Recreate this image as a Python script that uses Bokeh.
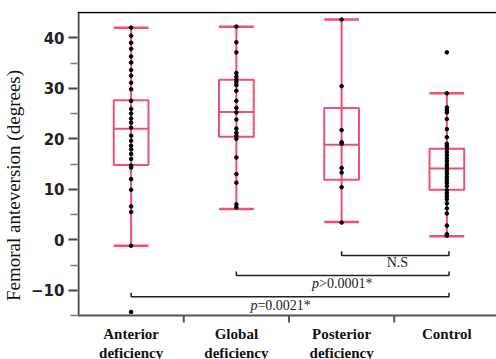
from bokeh.plotting import figure
from bokeh.models import FixedTicker, Span, Range1d
from bokeh.core.properties import value
from bokeh.embed import file_html
from bokeh.resources import INLINE

categories = ["Anterior\ndeficiency", "Global\ndeficiency", "Posterior\ndeficiency", "Control"]

anterior = [42.0, 40.4, 39.0, 37.8, 36.3, 35.1, 33.6, 32.5, 31.1, 29.8, 27.5, 25.9, 25.0,
            24.0, 23.2, 22.2, 20.6, 19.6, 18.6, 17.9, 17.0, 16.0, 14.7, 14.3, 12.0, 9.9,
            6.6, 5.5, -1.2, -14.3]
global_def = [42.2, 39.1, 37.1, 33.0, 32.3, 31.7, 31.2, 30.6, 29.5, 27.5, 26.1, 25.2, 23.8,
              22.0, 21.2, 20.6, 20.0, 16.3, 13.0, 11.3, 7.0, 6.4]
posterior = [43.6, 30.4, 21.7, 19.3, 19.0, 14.2, 13.3, 10.4, 3.4]
control = [37.1, 29.0, 26.2, 25.7, 25.2, 23.9, 21.9, 20.3, 19.0, 18.5, 18.0, 17.4, 16.8,
           16.2, 15.6, 15.0, 14.5, 14.0, 13.5, 13.0, 12.4, 11.8, 11.2, 10.6, 9.8, 9.2,
           8.6, 8.0, 7.2, 6.2, 5.2, 2.8, 1.1, 0.8]

lower = [-1.2, 6.1, 3.5, 0.7]
q1 = [14.8, 20.4, 11.9, 9.9]
median = [22.0, 25.3, 18.8, 14.1]
q3 = [27.6, 31.7, 26.1, 18.0]
upper = [42.0, 42.2, 43.6, 29.0]

y_ticks = [-10, 0, 10, 20, 30, 40]
y_minor = [-15, -5, 5, 15, 25, 35]
y_min, y_max = -15, 45

# comparisons: (from group index, to group index, label prefix, label rest)
comparisons = [(2, 3, "", "N.S"), (1, 3, "p", ">0.0001*"), (0, 3, "p", "=0.0021*")]
bracket_levels = [-3.1, -7.1, -11.3]

PINK = "#ef4f73"
AX = "#444444"
groups = [anterior, global_def, posterior, control]
centers = [i + 0.5 for i in range(len(categories))]
hw = 0.165

PX_Y = 5.05      # pixels per degree
PX_X = 105.5     # pixels per category
y_lo = y_min - 44 / PX_Y
y_hi = y_max + 1 / PX_Y
x_lo = -1 / PX_X

p = figure(width=496, height=359, output_backend="svg", toolbar_location=None,
           x_axis_location=None,
           x_range=Range1d(x_lo, x_lo + 420 / PX_X), y_range=Range1d(y_lo, y_hi))
p.min_border_left = 76
p.min_border_right = 0
p.min_border_top = 11
p.min_border_bottom = 0
p.outline_line_color = None
p.xgrid.visible = False
p.ygrid.visible = False
p.background_fill_color = "white"
p.border_fill_color = "white"

# axis lines (drawn as data lines)
p.segment(x0=[0], x1=[0], y0=[y_min], y1=[y_max], line_color=AX, line_width=2)
p.add_layout(Span(location=y_min, dimension="width", line_color="#555555", line_width=2))
p.add_layout(Span(location=y_max, dimension="width", line_color="black", line_width=1.5))
bounds = [1, 2, 3]
p.segment(x0=bounds, x1=bounds, y0=[y_min] * 3, y1=[y_min - 7 / PX_Y] * 3,
          line_color="#555555", line_width=2)

# whisker central lines
p.segment(x0=centers, x1=centers, y0=lower, y1=upper, line_color=PINK, line_width=2)
# boxes
p.quad(left=[c - hw for c in centers], right=[c + hw for c in centers], bottom=q1, top=q3,
       fill_color=None, line_color=PINK, line_width=2)
# medians
p.segment(x0=[c - hw for c in centers], x1=[c + hw for c in centers], y0=median, y1=median,
          line_color=PINK, line_width=2)
# caps
p.segment(x0=[c - hw for c in centers], x1=[c + hw for c in centers], y0=upper, y1=upper,
          line_color=PINK, line_width=2.5)
p.segment(x0=[c - hw for c in centers], x1=[c + hw for c in centers], y0=lower, y1=lower,
          line_color=PINK, line_width=2.5)

# points
xs, ys = [], []
for c, g in zip(centers, groups):
    xs += [c] * len(g)
    ys += g
p.scatter(xs, ys, size=3.6, color="black")

# brackets
tick_h = 0.8
for (a, b, pre, rest), lvl in zip(comparisons, bracket_levels):
    xa, xb = centers[a], centers[b] + 0.02
    p.line([xa, xa, xb, xb], [lvl + tick_h, lvl, lvl, lvl + tick_h], line_color="#222222", line_width=1.5)

# bracket labels
FS = "14px"
SERIF = value("Liberation Serif")
p.text(x=[3.03], y=[-4.6], text=["N.S"], text_font=SERIF, text_font_size=FS,
       text_align="center", text_baseline="middle", text_color="#222222")
p.text(x=[2.285], y=[-8.7], text=["p"], text_font=SERIF, text_font_size=FS,
       text_font_style="italic", text_align="right", text_baseline="middle", text_color="#222222")
p.text(x=[2.285], y=[-8.7], text=[">0.0001*"], text_font=SERIF, text_font_size=FS,
       text_align="left", text_baseline="middle", text_color="#222222")
p.text(x=[1.7], y=[-13.1], text=["p"], text_font=SERIF, text_font_size=FS,
       text_font_style="italic", text_align="right", text_baseline="middle", text_color="#222222")
p.text(x=[1.7], y=[-13.1], text=["=0.0021*"], text_font=SERIF, text_font_size=FS,
       text_align="left", text_baseline="middle", text_color="#222222")

# category labels
l1 = [lab.split("\n")[0] for lab in categories]
l2 = [lab.split("\n")[1] if "\n" in lab else "" for lab in categories]
p.text(x=centers, y=[y_min - 18 / PX_Y] * 4, text=l1, text_font=SERIF, text_font_size="15px",
       text_font_style="bold", text_align="center", text_baseline="middle", text_color="#111111")
p.text(x=centers, y=[y_min - 37 / PX_Y] * 4, text=l2, text_font=SERIF, text_font_size="15px",
       text_font_style="bold", text_align="center", text_baseline="middle", text_color="#111111")

# y axis
ya = p.yaxis[0]
ya.ticker = FixedTicker(ticks=y_ticks, minor_ticks=y_minor)
ya.major_label_overrides = {-10: "\u221210"}
ya.major_tick_out = 9
ya.major_tick_in = 0
ya.minor_tick_out = 7
ya.minor_tick_in = 0
ya.major_tick_line_color = AX
ya.minor_tick_line_color = "#777777"
ya.major_tick_line_width = 2
ya.minor_tick_line_width = 1.5
ya.axis_line_color = None
ya.major_label_text_font = "DejaVu Sans"
ya.major_label_text_font_style = "bold"
ya.major_label_text_font_size = "15px"
ya.major_label_text_color = "#222222"
ya.major_label_standoff = 4
ya.axis_label = "Femoral anteversion (degrees)"
ya.axis_label_text_font = "Liberation Serif"
ya.axis_label_text_font_style = "normal"
ya.axis_label_text_font_size = "19px"
ya.axis_label_text_color = "#111111"
ya.axis_label_standoff = 4

open("out.html", "w").write(file_html(p, INLINE))
